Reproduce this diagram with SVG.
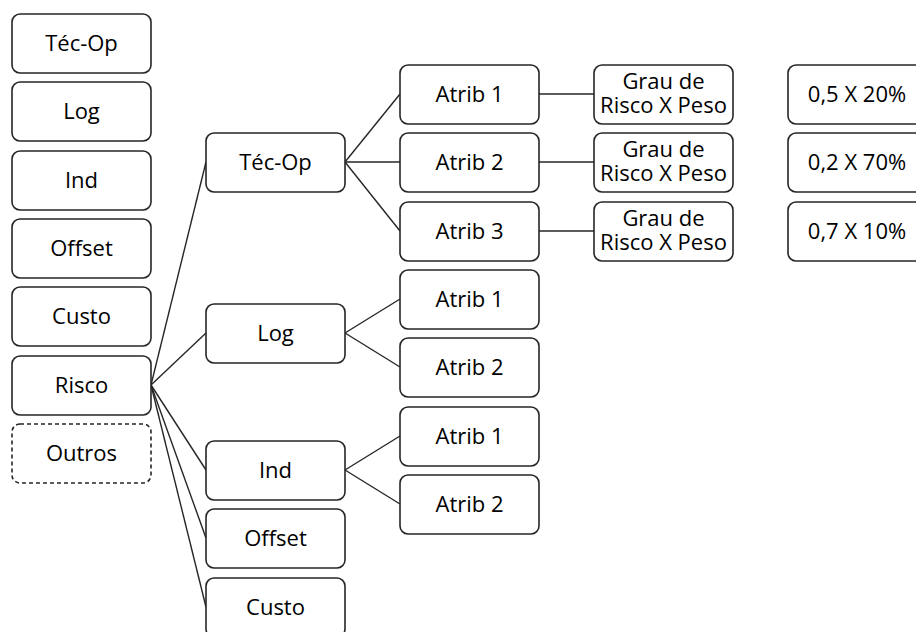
<svg xmlns="http://www.w3.org/2000/svg" width="916" height="632" viewBox="0 0 916 632">
<style>
.b{fill:#fff;stroke:#262626;stroke-width:1.6}
.d{fill:#fff;stroke:#262626;stroke-width:1.6;stroke-dasharray:4 3}
.t{font-family:"Open Sans",Lato,sans-serif;font-size:22px;fill:#000;text-anchor:middle}
.c{stroke:#262626;stroke-width:1.4;fill:none}
</style>
<rect width="916" height="632" fill="#fff"/>
<g id="connectors">
<line class="c" x1="151" y1="385" x2="206" y2="162"/>
<line class="c" x1="151" y1="385" x2="206" y2="333"/>
<line class="c" x1="151" y1="385" x2="206" y2="470"/>
<line class="c" x1="151" y1="385" x2="206" y2="538"/>
<line class="c" x1="151" y1="385" x2="206" y2="607"/>
<line class="c" x1="345" y1="162" x2="400" y2="94"/>
<line class="c" x1="345" y1="162" x2="400" y2="162"/>
<line class="c" x1="345" y1="162" x2="400" y2="231"/>
<line class="c" x1="345" y1="333" x2="400" y2="299"/>
<line class="c" x1="345" y1="333" x2="400" y2="367"/>
<line class="c" x1="345" y1="470" x2="400" y2="436"/>
<line class="c" x1="345" y1="470" x2="400" y2="504"/>
<line class="c" x1="539" y1="94" x2="594" y2="94"/>
<line class="c" x1="539" y1="162" x2="594" y2="162"/>
<line class="c" x1="539" y1="231" x2="594" y2="231"/>
</g>
<g id="l-tecop"><rect class="b" x="12" y="14" width="139" height="59" rx="8"/><text class="t" x="81.5" y="51">Téc-Op</text></g>
<g id="l-log"><rect class="b" x="12" y="82" width="139" height="59" rx="8"/><text class="t" x="81.5" y="119">Log</text></g>
<g id="l-ind"><rect class="b" x="12" y="151" width="139" height="59" rx="8"/><text class="t" x="81.5" y="188">Ind</text></g>
<g id="l-offset"><rect class="b" x="12" y="219" width="139" height="59" rx="8"/><text class="t" x="81.5" y="256">Offset</text></g>
<g id="l-custo"><rect class="b" x="12" y="287" width="139" height="59" rx="8"/><text class="t" x="81.5" y="324">Custo</text></g>
<g id="l-risco"><rect class="b" x="12" y="356" width="139" height="59" rx="8"/><text class="t" x="81.5" y="393">Risco</text></g>
<g id="l-outros"><rect class="d" x="12" y="424" width="139" height="59" rx="8"/><text class="t" x="81.5" y="461">Outros</text></g>
<g id="m-tecop"><rect class="b" x="206" y="133" width="139" height="59" rx="8"/><text class="t" x="275.5" y="170">Téc-Op</text></g>
<g id="m-log"><rect class="b" x="206" y="304" width="139" height="59" rx="8"/><text class="t" x="275.5" y="341">Log</text></g>
<g id="m-ind"><rect class="b" x="206" y="441" width="139" height="59" rx="8"/><text class="t" x="275.5" y="478">Ind</text></g>
<g id="m-offset"><rect class="b" x="206" y="509" width="139" height="59" rx="8"/><text class="t" x="275.5" y="546">Offset</text></g>
<g id="m-custo"><rect class="b" x="206" y="578" width="139" height="59" rx="8"/><text class="t" x="275.5" y="615">Custo</text></g>
<g id="a-t1"><rect class="b" x="400" y="65" width="139" height="59" rx="8"/><text class="t" x="469.5" y="102">Atrib 1</text></g>
<g id="a-t2"><rect class="b" x="400" y="133" width="139" height="59" rx="8"/><text class="t" x="469.5" y="170">Atrib 2</text></g>
<g id="a-t3"><rect class="b" x="400" y="202" width="139" height="59" rx="8"/><text class="t" x="469.5" y="239">Atrib 3</text></g>
<g id="a-l1"><rect class="b" x="400" y="270" width="139" height="59" rx="8"/><text class="t" x="469.5" y="307">Atrib 1</text></g>
<g id="a-l2"><rect class="b" x="400" y="338" width="139" height="59" rx="8"/><text class="t" x="469.5" y="375">Atrib 2</text></g>
<g id="a-i1"><rect class="b" x="400" y="407" width="139" height="59" rx="8"/><text class="t" x="469.5" y="444">Atrib 1</text></g>
<g id="a-i2"><rect class="b" x="400" y="475" width="139" height="59" rx="8"/><text class="t" x="469.5" y="512">Atrib 2</text></g>
<g id="g1"><rect class="b" x="594" y="65" width="139" height="59" rx="8"/><text class="t"><tspan x="663.5" y="89">Grau de</tspan><tspan x="663.5" y="113">Risco X Peso</tspan></text></g>
<g id="g2"><rect class="b" x="594" y="133" width="139" height="59" rx="8"/><text class="t"><tspan x="663.5" y="157">Grau de</tspan><tspan x="663.5" y="181">Risco X Peso</tspan></text></g>
<g id="g3"><rect class="b" x="594" y="202" width="139" height="59" rx="8"/><text class="t"><tspan x="663.5" y="226">Grau de</tspan><tspan x="663.5" y="250">Risco X Peso</tspan></text></g>
<g id="v1"><rect class="b" x="788" y="65" width="139" height="59" rx="8"/><text class="t" x="857" y="102">0,5 X 20%</text></g>
<g id="v2"><rect class="b" x="788" y="133" width="139" height="59" rx="8"/><text class="t" x="857" y="170">0,2 X 70%</text></g>
<g id="v3"><rect class="b" x="788" y="202" width="139" height="59" rx="8"/><text class="t" x="857" y="239">0,7 X 10%</text></g>
</svg>
